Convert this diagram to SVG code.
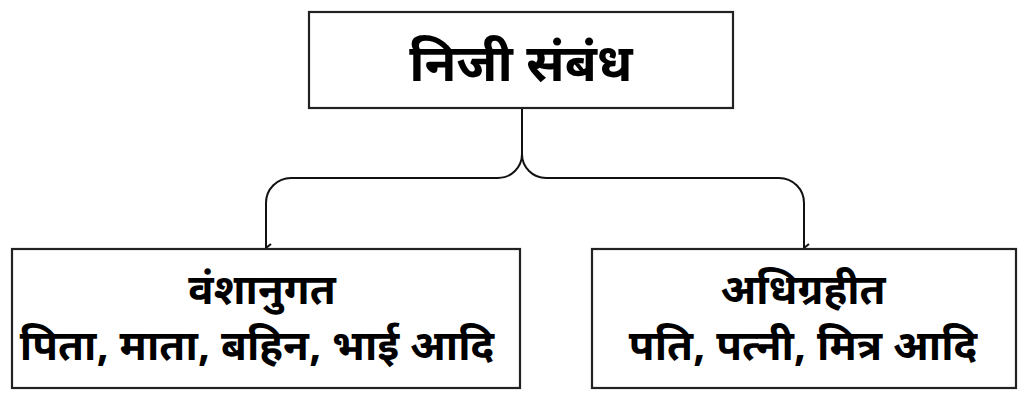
<svg xmlns="http://www.w3.org/2000/svg" width="1024" height="401" viewBox="0 0 1024 401">
<style>
.box{fill:#fff;stroke:#222;stroke-width:2.2}
.conn{fill:none;stroke:#111;stroke-width:2}
text{font-family:"Noto Sans Devanagari","Noto Sans","Lohit Devanagari",sans-serif;font-weight:bold;fill:#000;text-anchor:middle}
.t1{font-size:52px}
.t2{font-size:42px}
</style>
<defs>
<marker id="arr" viewBox="0 0 10 10" refX="5" refY="9" markerWidth="10" markerHeight="10" markerUnits="userSpaceOnUse" orient="auto-start-reverse">
<path d="M1,4 L5,9 L9,4" fill="none" stroke="#111" stroke-width="2"/>
</marker>
</defs>
<rect width="1024" height="401" fill="#fff"/>
<g id="connectors">
<path class="conn" d="M522,108 V154 A24,24 0 0 1 498,178 H291 A25,25 0 0 0 266,203 V248" marker-end="url(#arr)"/>
<path class="conn" d="M522,108 V154 A24,24 0 0 0 546,178 H779 A25,25 0 0 1 804,203 V248" marker-end="url(#arr)"/>
</g>
<g id="root">
<rect class="box" x="309" y="12" width="424" height="96"/>
<text class="t1" x="521" y="81">निजी संबंध</text>
</g>
<g id="hereditary">
<rect class="box" x="12" y="249" width="508" height="139"/>
<text class="t2" x="262" y="304">वंशानुगत</text>
<text class="t2" x="257" y="360">पिता, माता, बहिन, भाई आदि</text>
</g>
<g id="acquired">
<rect class="box" x="592" y="249" width="424" height="139"/>
<text class="t2" x="803" y="304">अधिग्रहीत</text>
<text class="t2" x="803" y="360">पति, पत्नी, मित्र आदि</text>
</g>
</svg>
